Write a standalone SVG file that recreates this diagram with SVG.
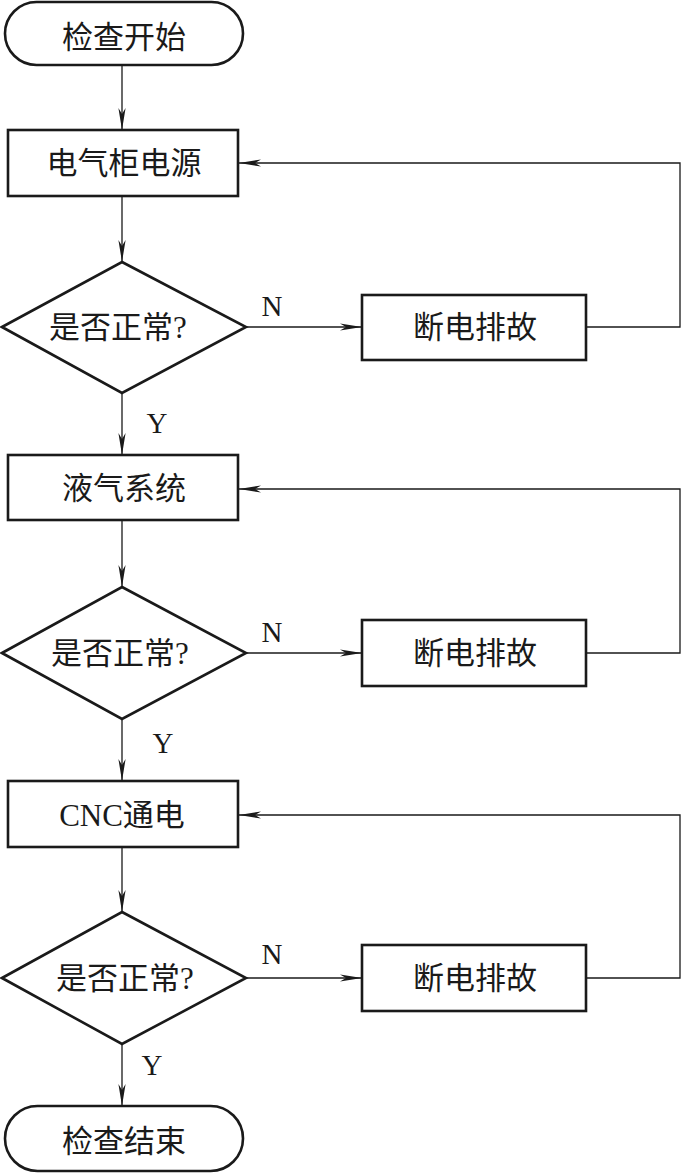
<svg xmlns="http://www.w3.org/2000/svg" width="682" height="1174" viewBox="0 0 682 1174">
<style>
.node{fill:#fff;stroke:#1a1a1a;stroke-width:2.6}
.t{font-family:"Liberation Serif","Noto Sans CJK SC",serif;font-size:31px;fill:#1a1a1a;text-anchor:middle}
.lbl{font-family:"Liberation Serif",serif;font-size:29px;fill:#1a1a1a;text-anchor:middle}
.c{fill:none;stroke:#1a1a1a;stroke-width:1.3;marker-end:url(#ah)}
</style>
<defs>
<marker id="ah" markerUnits="userSpaceOnUse" markerWidth="24" markerHeight="10" viewBox="-22 -5 24 10" refX="0" refY="0" orient="auto">
<path d="M0,0 L-22,-3.6 L-16,0 L-22,3.6 Z" fill="#1a1a1a"/>
</marker>
</defs>
<g id="start"><rect class="node" x="5" y="2" width="238" height="63" rx="31.5"/><text class="t" x="124" y="48">检查开始</text></g>
<g id="box1"><rect class="node" x="8" y="130" width="230" height="66"/><text class="t" x="124" y="174">电气柜电源</text></g>
<g id="dec1"><polygon class="node" points="122,262 246,327 122,393 2,327"/><text class="t" x="118" y="338">是否正常?</text></g>
<g id="fix1"><rect class="node" x="362" y="295" width="224" height="65"/><text class="t" x="475" y="338">断电排故</text></g>
<g id="box2"><rect class="node" x="8" y="455" width="230" height="65"/><text class="t" x="124" y="499">液气系统</text></g>
<g id="dec2"><polygon class="node" points="122,587 246,653 122,719 2,653"/><text class="t" x="120" y="664">是否正常?</text></g>
<g id="fix2"><rect class="node" x="362" y="620" width="224" height="66"/><text class="t" x="475" y="664">断电排故</text></g>
<g id="box3"><rect class="node" x="8" y="781" width="230" height="66"/><text class="t" x="122" y="826">CNC通电</text></g>
<g id="dec3"><polygon class="node" points="122,912 246,978 122,1044 2,978"/><text class="t" x="125" y="989">是否正常?</text></g>
<g id="fix3"><rect class="node" x="362" y="945" width="224" height="66"/><text class="t" x="475" y="989">断电排故</text></g>
<g id="end"><rect class="node" x="5" y="1106" width="238" height="65" rx="32.5"/><text class="t" x="124" y="1152">检查结束</text></g>
<g id="connectors">
<path class="c" d="M122,65 V130"/>
<path class="c" d="M122,196 V262"/>
<path class="c" d="M246,327 H362"/>
<path class="c" d="M586,327 H680 V163 H239"/>
<path class="c" d="M122,393 V455"/>
<path class="c" d="M122,520 V587"/>
<path class="c" d="M246,653 H362"/>
<path class="c" d="M586,653 H680 V489 H239"/>
<path class="c" d="M122,719 V781"/>
<path class="c" d="M122,847 V912"/>
<path class="c" d="M246,978 H362"/>
<path class="c" d="M586,978 H680 V815 H239"/>
<path class="c" d="M122,1044 V1106"/>
</g>
<g id="labels">
<text class="lbl" x="272" y="316">N</text>
<text class="lbl" x="157" y="433">Y</text>
<text class="lbl" x="272" y="642">N</text>
<text class="lbl" x="163" y="753">Y</text>
<text class="lbl" x="272" y="964">N</text>
<text class="lbl" x="152" y="1075">Y</text>
</g>
</svg>
